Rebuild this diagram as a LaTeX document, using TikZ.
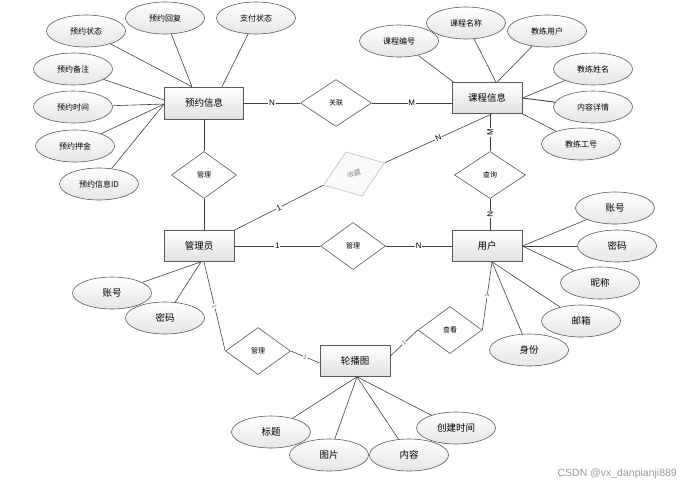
\documentclass[tikz,border=0pt]{standalone}
\usepackage{fontspec}
\setmainfont{Noto Sans CJK SC}
\newfontfamily\labfont{Liberation Sans}
\usetikzlibrary{shapes.geometric}
\begin{document}
\begin{tikzpicture}[x=1pt,y=-1pt,
  entity/.style={rectangle, draw=black!65, line width=0.6pt, top color=white, bottom color=black!12,
    minimum width=70pt, minimum height=31pt, inner sep=0pt, font=\fontsize{9.5}{11}\selectfont},
  attrs/.style={ellipse, draw=black!65, line width=0.6pt, top color=white, bottom color=black!10,
    minimum width=79pt, minimum height=32pt, inner sep=0pt, font=\fontsize{8}{9}\selectfont},
  attrl/.style={attrs, font=\fontsize{9.5}{11}\selectfont},
  rel/.style={diamond, draw=black!65, line width=0.6pt, fill=white, minimum width=65pt,
    minimum height=47pt, inner sep=0pt, font=\fontsize{7}{8}\selectfont},
  conn/.style={draw=black!75, line width=0.6pt},
  elab/.style={fill=white, inner sep=0.8pt, font=\labfont\fontsize{8}{8}\selectfont},
  slab/.style={fill=white, inner sep=0.5pt, text=black!60, font=\labfont\fontsize{6}{6}\selectfont}
]
\useasboundingbox (0,0) rectangle (687,488);

% entities
\node[entity, minimum width=79pt, minimum height=32pt] (yy) at (204,103) {预约信息};
\node[entity] (kc) at (487,98) {课程信息};
\node[entity] (gly) at (199,246) {管理员};
\node[entity] (yh) at (487,246) {用户};
\node[entity] (lbt) at (355,361) {轮播图};

% relationships
\node[rel, minimum width=71pt] (gl) at (336,103) {关联};
\node[rel] (gl1) at (204,175) {管理};
\node[rel, rotate=20, draw=black!25, fill=black!2, text=black!45] (sc) at (354,174) {收藏};
\node[rel, minimum width=71pt] (cx) at (490,175) {查询};
\node[rel] (gl2) at (353,246) {管理};
\node[rel] (gl3) at (258,351) {管理};
\node[rel, minimum width=64pt] (ck) at (450,330) {查看};

% attributes of 预约信息
\node[attrs] (ya1) at (86,31) {预约状态};
\node[attrs] (ya2) at (165,18) {预约回复};
\node[attrs] (ya3) at (256,18) {支付状态};
\node[attrs] (ya4) at (73,69) {预约备注};
\node[attrs] (ya5) at (73,107) {预约时间};
\node[attrs] (ya6) at (75,146) {预约押金};
\node[attrs] (ya7) at (99,184) {预约信息ID};

% attributes of 课程信息
\node[attrs] (ka1) at (399,41) {课程编号};
\node[attrs] (ka2) at (466,23) {课程名称};
\node[attrs] (ka3) at (547,31) {教练用户};
\node[attrs] (ka4) at (593,69) {教练姓名};
\node[attrs] (ka5) at (593,107) {内容详情};
\node[attrs] (ka6) at (581,144) {教练工号};

% attributes of 管理员
\node[attrl] (ga1) at (112,293) {账号};
\node[attrl] (ga2) at (165,318) {密码};

% attributes of 用户
\node[attrl] (ua1) at (615,208) {账号};
\node[attrl] (ua2) at (617,246) {密码};
\node[attrl] (ua3) at (600,283) {昵称};
\node[attrl] (ua4) at (581,321) {邮箱};
\node[attrl] (ua5) at (529,350) {身份};

% attributes of 轮播图
\node[attrl] (la1) at (271,432) {标题};
\node[attrl] (la2) at (329,455) {图片};
\node[attrl] (la3) at (409,455) {内容};
\node[attrl] (la4) at (456,428) {创建时间};

% attribute links
\draw[conn] (ya1) -- ([xshift=-12pt]yy.north);
\draw[conn] (ya2) -- ([xshift=-12pt]yy.north);
\draw[conn] (ya3) -- ([xshift=18pt]yy.north);
\draw[conn] (ya4) -- ([yshift=3pt]yy.west);
\draw[conn] (ya5) -- ([yshift=-1pt]yy.west);
\draw[conn] (ya6) -- ([yshift=-1pt]yy.west);
\draw[conn] (ya7) -- ([yshift=-1pt]yy.west);

\draw[conn] (ka1) -- ([xshift=2pt]kc.north west);
\draw[conn] (ka2) -- ([xshift=9pt]kc.north);
\draw[conn] (ka3) -- ([xshift=10pt]kc.north);
\draw[conn] (ka4) -- (kc.east);
\draw[conn, line width=0.9pt] (ka5) -- (kc.east);
\draw[conn] (ka6) -- (kc.south east);

\draw[conn] (ga1) -- ([xshift=2pt]gly.south);
\draw[conn] (ga2) -- ([xshift=2pt]gly.south);

\draw[conn] (ua1) -- (yh.east);
\draw[conn, line width=0.9pt] (ua2) -- (yh.east);
\draw[conn] (ua3) -- (yh.east);
\draw[conn] (ua4) -- ([xshift=5pt]yh.south);
\draw[conn] (ua5) -- ([xshift=5pt]yh.south);

\draw[conn] (la1) -- ([xshift=2pt]lbt.south);
\draw[conn] (la2) -- ([xshift=2pt]lbt.south);
\draw[conn] (la3) -- ([xshift=2pt]lbt.south);
\draw[conn] (la4) -- ([xshift=2pt]lbt.south);

% relationship links
\draw[conn] (yy.east) -- node[elab]{N} (gl.west);
\draw[conn] (gl.east) -- node[elab]{M} (gl.east -| kc.west);
\draw[conn] (yy.south) -- (gl1.north);
\draw[conn] (gl1.south) -- (gl1.south |- gly.north);
\draw[conn] (gly.north east) -- node[elab, sloped]{1} (sc.west);
\draw[conn] (sc.east) -- node[elab, sloped]{N} ([xshift=5pt]kc.south);
\draw[conn] (cx.north) -- node[elab, sloped]{M} (cx.north |- kc.south);
\draw[conn] (cx.south) -- node[elab, sloped]{N} (cx.south |- yh.north);
\draw[conn, line width=0.9pt] (gly.east) -- node[elab]{1} (gl2.west);
\draw[conn, line width=0.9pt] (gl2.east) -- node[elab]{N} (yh.west);
\draw[conn] ([xshift=5pt]gly.south) -- node[slab, sloped]{1} (gl3.west);
\draw[conn] (gl3.east) -- node[slab, sloped]{1} ([yshift=-2pt]lbt.west);
\draw[conn] ([yshift=5pt]lbt.east) -- node[slab, sloped]{1} (ck.west);
\draw[conn] (ck.east) -- node[slab, sloped]{1} ([xshift=5pt]yh.south);

% watermark
\node[anchor=east, text=black!40, inner sep=0pt, font=\labfont\fontsize{10.5}{11}\selectfont] (wm) at (677,474) {CSDN @vx\_danpianji889};
\end{tikzpicture}
\end{document}
